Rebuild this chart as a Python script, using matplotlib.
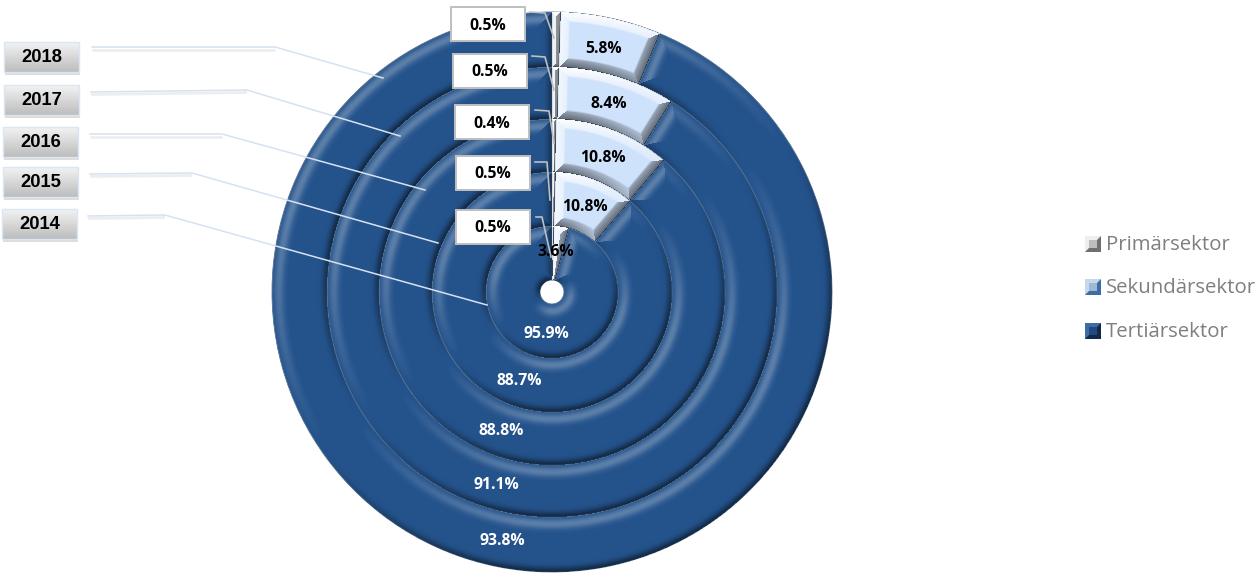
import numpy as np, matplotlib
matplotlib.use("Agg"); import matplotlib.pyplot as plt
from matplotlib.patches import Rectangle

# Jahre von innen nach aussen, Anteile in %
years = ["2014", "2015", "2016", "2017", "2018"]
primaer = [0.5, 0.5, 0.4, 0.5, 0.5]
sekundaer = [3.6, 10.8, 10.8, 8.4, 5.8]
tertiaer = [95.9, 88.7, 88.8, 91.1, 93.8]
sektoren = ["Primärsektor", "Sekundärsektor", "Tertiärsektor"]

W, H = 1258, 573
CX, CY = 552, H - 292
radii = [12, 66, 120, 173, 225, 280]
C_PRIM, C_SEK, C_TERT = "#d3d8de", "#cfe2fb", "#24538c"
FONT = "Open Sans"
LABEL_SIZE = 11.3

fig = plt.figure(figsize=(W / 100, H / 100), dpi=100)
ax = fig.add_axes([0, 0, 1, 1])

def py(y):  # Pixel von oben -> Achse
    return H - y

# Ringe
for i, yr in enumerate(years):
    ax.pie([primaer[i], sekundaer[i], tertiaer[i]], radius=radii[i + 1], center=(CX, CY),
           startangle=90, counterclock=False, colors=[C_PRIM, C_SEK, C_TERT], frame=True,
           wedgeprops=dict(width=radii[i + 1] - radii[i], edgecolor="#54708f", linewidth=0.6))

# Bevel-Effekt als Overlay aus den gleichen Werten
xx, yy = np.meshgrid(np.arange(W) + .5, np.arange(H) + .5)
dx, dy = xx - CX, yy - CY
r = np.hypot(dx, dy)
th = np.mod(np.arctan2(dx, dy), 2 * np.pi)  # im Uhrzeigersinn ab Norden
ur, uy = dx / np.maximum(r, 1), dy / np.maximum(r, 1)
light = np.array([-0.55, 0.83])
over = np.zeros((H, W, 4))
for i in range(len(years)):
    ri, ro = radii[i], radii[i + 1]
    vals = np.array([primaer[i], sekundaer[i], tertiaer[i]])
    edges = np.concatenate([[0], np.cumsum(vals) / vals.sum() * 2 * np.pi])
    for k in range(3):
        m = (r >= ri) & (r < ro) & (th >= edges[k]) & (th < edges[k + 1])
        d = np.stack([ro - r, r - ri, (th - edges[k]) * r, (edges[k + 1] - th) * r])
        # Normalen: aussen, innen, Startkante, Endkante
        nx = np.stack([ur, -ur, -uy, uy])
        ny = np.stack([uy, -uy, ur, -ur])
        idx = d.argmin(axis=0)
        dmin = np.take_along_axis(d, idx[None], 0)[0]
        nxm = np.take_along_axis(nx, idx[None], 0)[0]
        nym = np.take_along_axis(ny, idx[None], 0)[0]
        s = nxm * light[0] + nym * light[1]
        if k == 2:
            f = np.exp(-((dmin - 7) / 5.0) ** 2)
            lit, dark = 0.26, 0.50
            f_dark = np.exp(-(dmin / 5.0) ** 2)
        else:
            f = np.clip((10 - dmin) / 2.0, 0, 1) * (1 - 0.45 * dmin / 10)
            lit, dark = 1.0, 0.55
            f_dark = np.clip((10 - dmin) / 2.0, 0, 1) * (1 - 0.6 * dmin / 10)
        a_w = np.clip(s * 1.3, 0, 1) * f * lit
        a_k = np.clip(-s * 1.3, 0, 1) * f_dark * dark
        alpha = np.maximum(a_w, a_k)
        val = (a_w > a_k).astype(float)
        over[..., 0][m] = val[m]
        over[..., 1][m] = val[m]
        over[..., 2][m] = val[m]
        over[..., 3][m] = alpha[m]
ax.imshow(over, extent=(0, W, 0, H), origin="lower", interpolation="bilinear", zorder=2, aspect="auto")

# Jahreskaesten links
year_boxes = [(4, 42), (4, 85), (3, 127), (3, 167), (2, 209)]
year_lines = [[(92, 47), (275, 47), (383, 78)], [(91, 92), (247, 90), (400, 136)],
              [(90, 134), (222, 134), (425, 190)], [(90, 174), (192, 173), (438, 243)],
              [(88, 216), (165, 215), (487, 305)]]
grad = np.linspace(0.95, 0.74, 32)[:, None]
for yr, (x0, y0), pts in zip(years[::-1], year_boxes, year_lines):
    ax.add_patch(Rectangle((x0 + 1, py(y0 + 33)), 75, 30, fc="#b5b5b5", ec="none", alpha=.45, zorder=3))
    ax.imshow(grad, cmap="gray", vmin=0, vmax=1, extent=(x0, x0 + 75, py(y0 + 30), py(y0)),
              aspect="auto", zorder=4)
    ax.add_patch(Rectangle((x0, py(y0 + 30)), 75, 30, fc="none", ec="#dbe6f5", lw=1, zorder=5))
    ax.text(x0 + 38, py(y0 + 15.5), yr, ha="center", va="center", fontsize=13.2, weight="bold",
            family="Liberation Sans", color="black", zorder=6)
    lx, ly = zip(*pts)
    ly = [py(v) for v in ly]
    ax.plot(lx[:2], [v - 2.5 for v in ly[:2]], color="#e6e6e6", lw=2, alpha=.7, zorder=3, solid_capstyle="butt")
    ax.plot(lx, ly, color="#d5e2f3", lw=1.1, zorder=3)

# Werte-Kaesten fuer den Primaersektor mit Fuehrungslinien
prim_boxes = [(451, 7), (453, 54), (455, 105), (456, 156), (456, 210)]
prim_lines = [[(530, 12), (545, 13), (554, 38)], [(532, 56), (545, 57), (554, 90)],
              [(535, 110), (549, 111), (554, 143)], [(535, 162), (547, 162), (550, 200)],
              [(536, 217), (542, 217), (551, 257)]]
for v, (x0, y0), pts in zip(primaer[::-1], prim_boxes, prim_lines):
    lx, ly = zip(*pts)
    ax.plot(lx, [py(q) for q in ly], color="#bfbfbf", lw=1.2, zorder=6)
    ax.add_patch(Rectangle((x0, py(y0 + 34)), 74, 34, fc="white", ec="#bfbfbf", lw=1.4, zorder=7))
    ax.text(x0 + 37, py(y0 + 18.5), f"{v:.1f}%", ha="center", va="center", fontsize=LABEL_SIZE, weight="bold",
            family=FONT, color="black", zorder=8)

# Beschriftung der Ringe
sek_pos = [(556, 252), (585, 207), (603, 158), (609, 104), (604, 49)]
ter_pos = [(546, 334), (519, 381), (501, 431), (496, 485), (502, 541)]
for v, (x, y) in zip(sekundaer, sek_pos):
    ax.text(x, py(y), f"{v:.1f}%", ha="center", va="center", fontsize=LABEL_SIZE, weight="bold",
            family=FONT, color="black", zorder=9)
for v, (x, y) in zip(tertiaer, ter_pos):
    ax.text(x, py(y), f"{v:.1f}%", ha="center", va="center", fontsize=LABEL_SIZE, weight="bold",
            family=FONT, color="white", zorder=9)

# Legende mit kleinen Bevel-Quadraten
leg_y = [244, 287, 331]
leg_col = [("#eeeeee", "#bdbdbd", "#6f6f6f"), ("#c8d8ea", "#9db9d8", "#3f6da3"), ("#3f6da3", "#1f4a82", "#12294a")]
for name, y, (hi, mid, lo) in zip(sektoren, leg_y, leg_col):
    x0, s = 1085, 16
    ax.add_patch(Rectangle((x0, py(y + s / 2)), s, s, fc=lo, ec="none", zorder=3))
    ax.fill([x0, x0 + s, x0 + s - 4, x0 + 4, x0 + 4, x0], [py(y - 8), py(y - 8), py(y - 4), py(y - 4), py(y + 4), py(y + 8)],
            color=hi, lw=0, zorder=4)
    ax.add_patch(Rectangle((x0 + 4, py(y + 4)), s - 8, 8, fc=mid, ec="none", zorder=5))
    ax.text(1106, py(y + 1), name, ha="left", va="center", fontsize=14.7, family="Open Sans", color="#7f7f7f")

ax.set_xlim(0, W); ax.set_ylim(0, H)
ax.axis("off")
fig.savefig("out.png", dpi=100, facecolor="white")
